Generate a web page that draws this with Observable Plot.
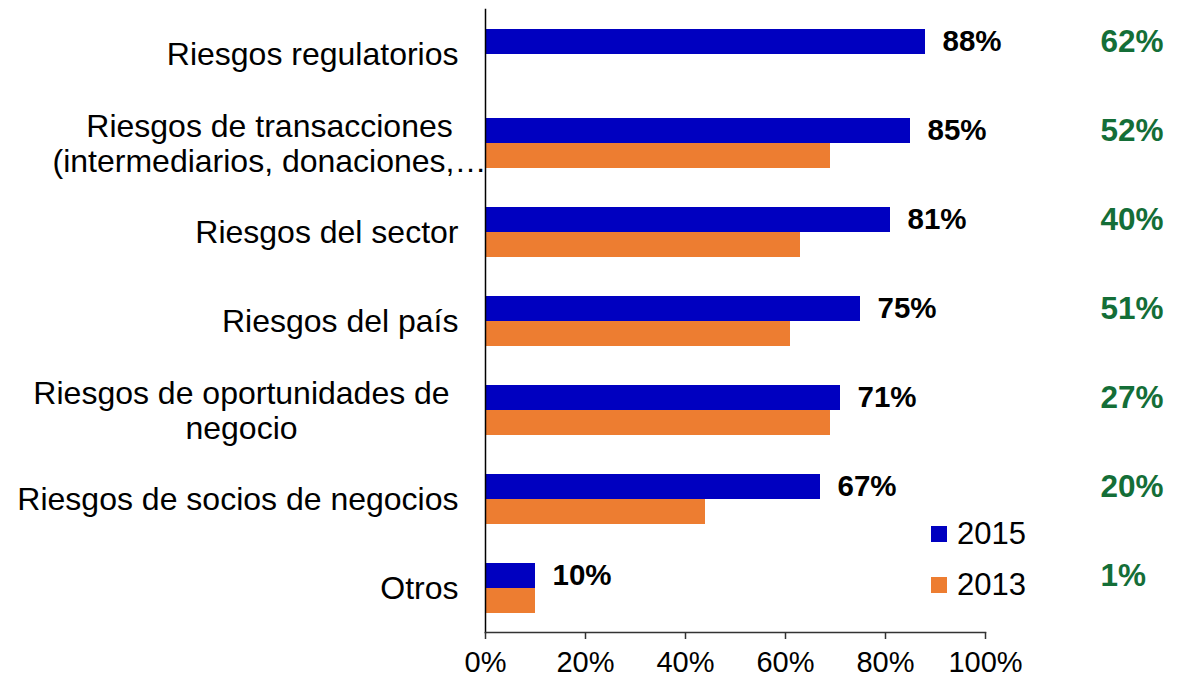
<!DOCTYPE html>
<html>
<head>
<meta charset="utf-8">
<script src="https://cdn.jsdelivr.net/npm/d3@7"></script>
<script src="https://cdn.jsdelivr.net/npm/@observablehq/plot@0.6"></script>
<style>
  body { margin: 0; background: #fff; font-family: "Liberation Sans", Arial, sans-serif; }
  #wrap { position: relative; width: 1180px; height: 682px; }
  .legend { position: absolute; left: 931px; top: 508px; font-size: 31px; color: #000; line-height: 51px; }
  .legend .item { display: flex; align-items: center; }
  .legend .sw { width: 16px; height: 16px; margin-right: 10px; }
</style>
</head>
<body>
<div id="wrap"></div>
<script>
const categories = [
  "Riesgos regulatorios",
  "Riesgos de transacciones\n(intermediarios, donaciones,…",
  "Riesgos del sector",
  "Riesgos del país",
  "Riesgos de oportunidades de\nnegocio",
  "Riesgos de socios de negocios",
  "Otros"
];
const values2015 = [88, 85, 81, 75, 71, 67, 10];
const values2013 = [null, 69, 63, 61, 69, 44, 10];
const labels2015 = ["88%", "85%", "81%", "75%", "71%", "67%", "10%"];
const greenLabels = ["62%", "52%", "40%", "51%", "27%", "20%", "1%"];
const xTicks = [0, 20, 40, 60, 80, 100];
const years = ["2015", "2013"];

const BLUE = "#0000C0";
const ORANGE = "#ED7D31";
const GREEN = "#146E37";

const rows2015 = categories.map((c, i) => ({cat: c, value: values2015[i], label: labels2015[i], green: greenLabels[i]}));
const rows2013 = categories.map((c, i) => ({cat: c, value: values2013[i]})).filter(d => d.value != null);
const multi = categories.filter(c => c.includes("\n"));

const font = "'Liberation Sans', Arial, sans-serif";

const chart = Plot.plot({
  width: 1180,
  height: 682,
  marginLeft: 485,
  marginRight: 195,
  marginTop: 9,
  marginBottom: 50,
  style: {fontFamily: font, color: "#000", background: "#fff"},
  x: {domain: [0, 100]},
  y: {domain: categories, paddingInner: 0.443, paddingOuter: 0.19},
  marks: [
    Plot.barX(rows2015, {x: "value", y: "cat", fill: BLUE, insetBottom: 25}),
    Plot.barX(rows2013, {x: "value", y: "cat", fill: ORANGE, insetTop: 25}),
    Plot.frame({anchor: "left", stroke: "#000", strokeWidth: 1.5}),
    Plot.frame({anchor: "bottom", stroke: "#333", strokeWidth: 1.5}),
    Plot.axisX({ticks: xTicks, tickFormat: d => d + "%", tickSize: 7, tickPadding: 12, fontSize: 29, stroke: "#333", strokeWidth: 1.5, label: null}),
    Plot.axisY({tickSize: 0, tickPadding: 27, fontSize: 32, label: null, tickFormat: d => d.includes("\n") ? "" : d}),
    Plot.text([multi[0]], {y: d => d, text: d => d, frameAnchor: "left", textAnchor: "middle", dx: -216, fontSize: 32, lineHeight: 1.1}),
    Plot.text([multi[1]], {y: d => d, text: d => d, frameAnchor: "left", textAnchor: "middle", dx: -244, fontSize: 32, lineHeight: 1.1}),
    Plot.text(rows2015, {x: "value", y: "cat", text: "label", dx: 17, dy: -12.5, textAnchor: "start", fontSize: 29.5, fontWeight: "bold", fill: "#000"}),
    Plot.text(rows2015, {y: "cat", text: "green", frameAnchor: "right", dx: 115, dy: -12.5, textAnchor: "start", fontSize: 31.5, fontWeight: "bold", fill: GREEN})
  ]
});

const wrap = document.getElementById("wrap");
wrap.appendChild(chart);

const legend = document.createElement("div");
legend.className = "legend";
const colors = {"2015": BLUE, "2013": ORANGE};
years.forEach(y => {
  const item = document.createElement("div");
  item.className = "item";
  const sw = document.createElement("span");
  sw.className = "sw";
  sw.style.background = colors[y];
  const t = document.createElement("span");
  t.textContent = y;
  item.appendChild(sw);
  item.appendChild(t);
  legend.appendChild(item);
});
wrap.appendChild(legend);
</script>
</body>
</html>
